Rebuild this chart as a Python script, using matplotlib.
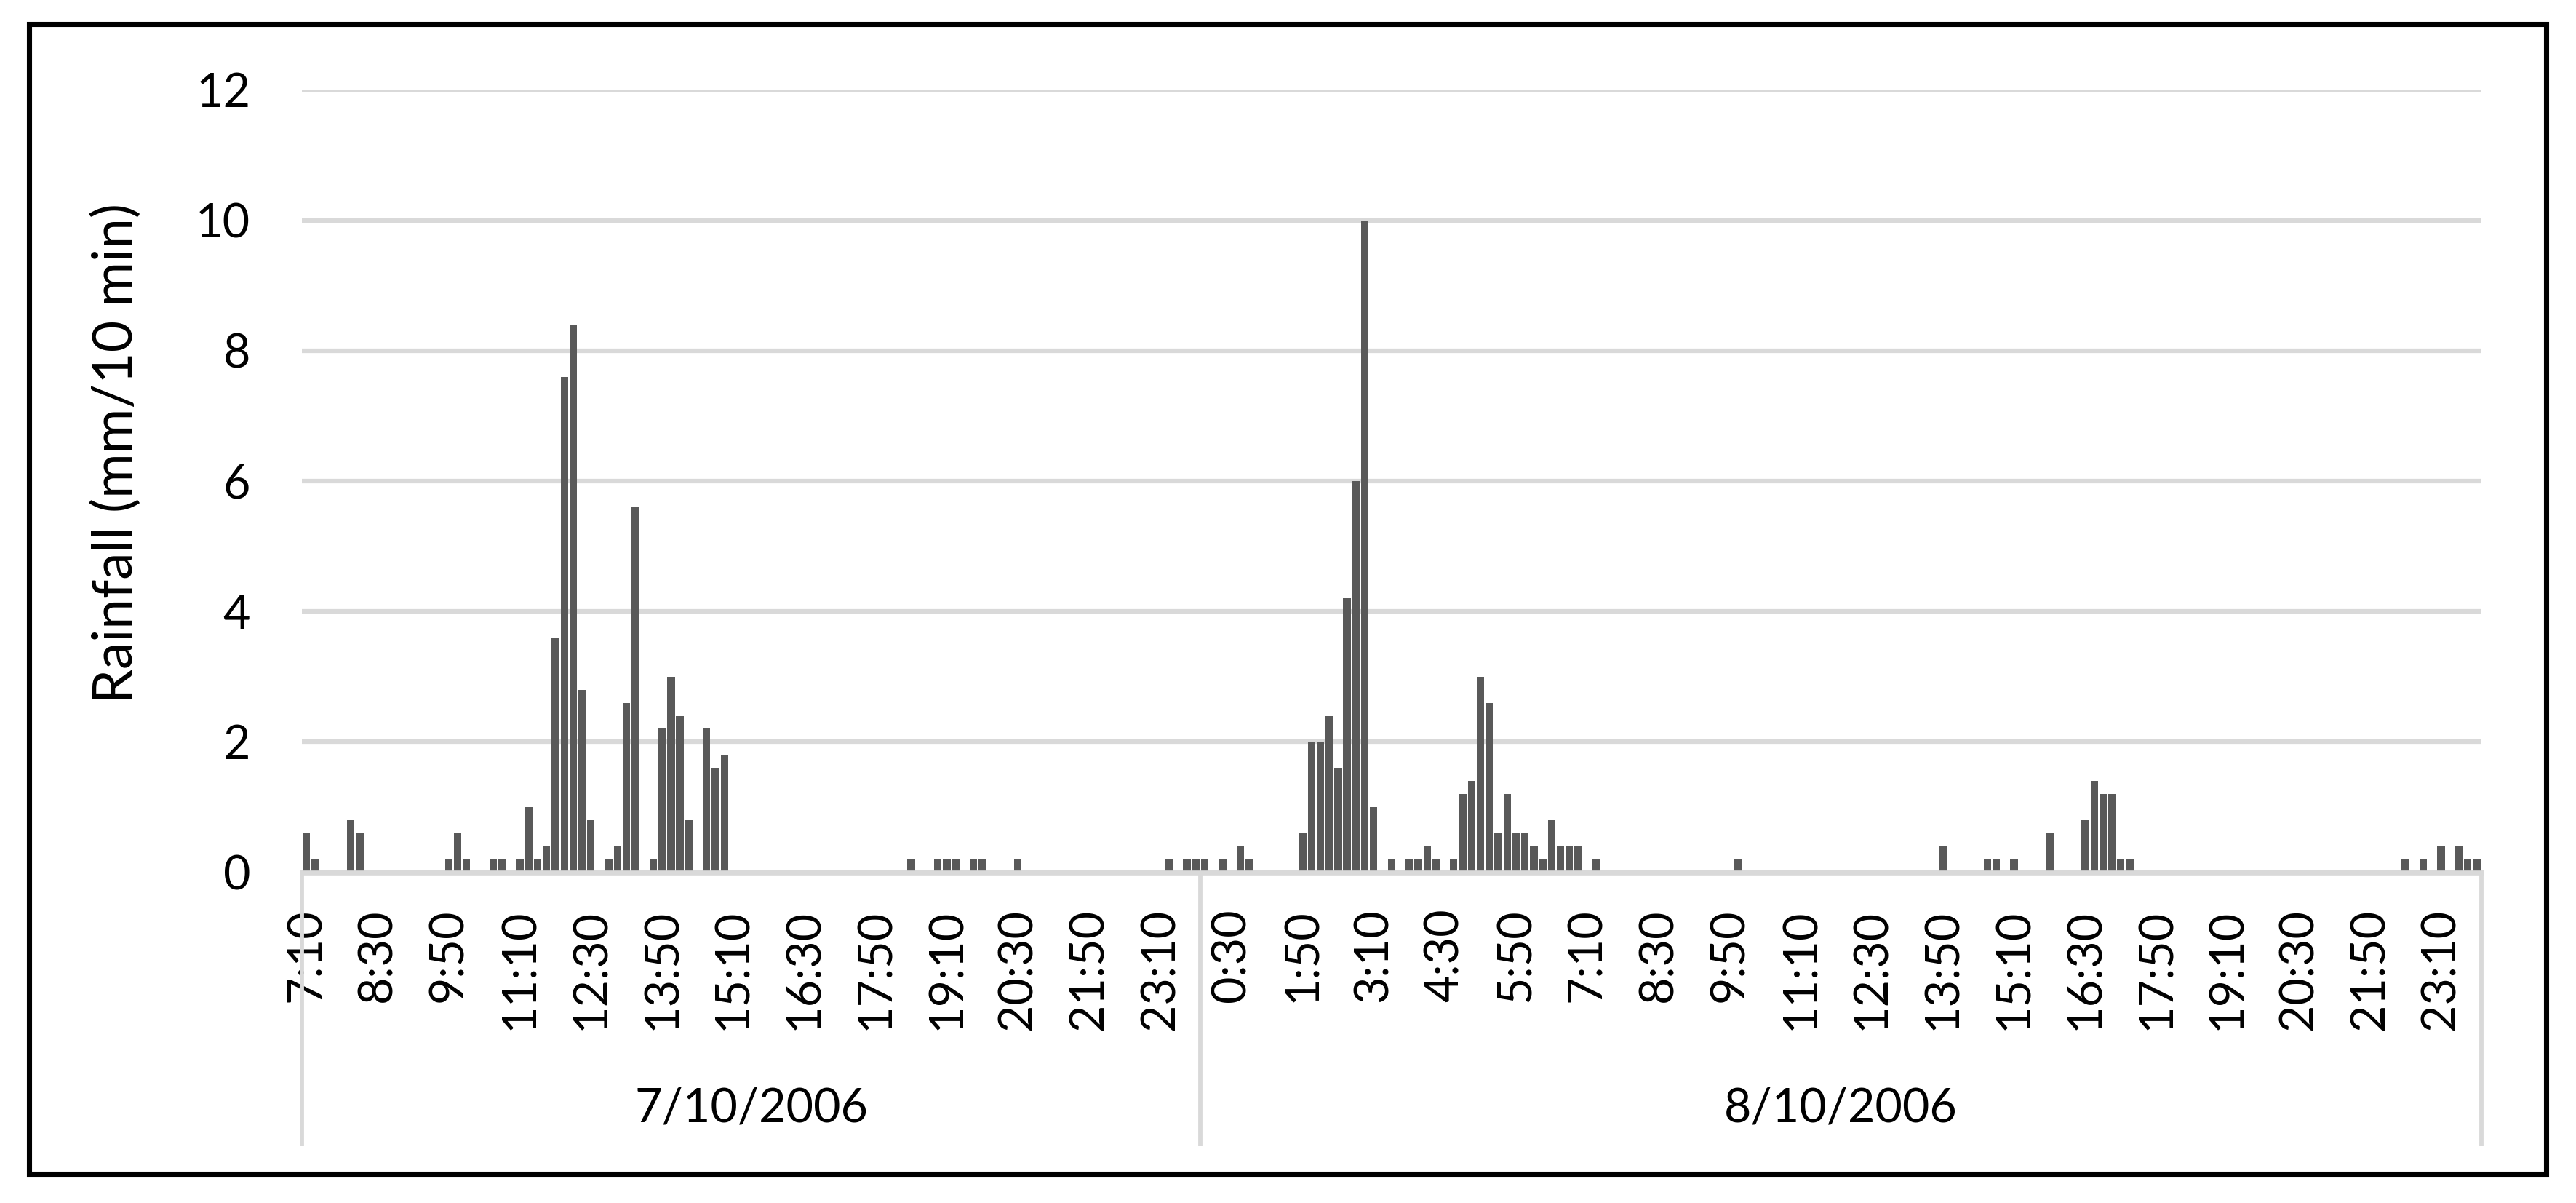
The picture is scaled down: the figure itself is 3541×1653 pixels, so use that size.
import matplotlib
matplotlib.use("Agg")
import matplotlib.pyplot as plt
from matplotlib.patches import Rectangle
from matplotlib.lines import Line2D
from matplotlib.transforms import blended_transform_factory
import numpy as np

plt.rcParams['font.family'] = ['Lato', 'DejaVu Sans']

# 10-minute rainfall, 7/10/2006 from 7:10 to 23:50 (101 bins)
day1_rain = [
    0.6, 0.2, 0, 0, 0, 0.8, 0.6, 0,
    0, 0, 0, 0, 0, 0, 0, 0,
    0.2, 0.6, 0.2, 0, 0, 0.2, 0.2, 0,
    0.2, 1.0, 0.2, 0.4, 3.6, 7.6, 8.4, 2.8,
    0.8, 0, 0.2, 0.4, 2.6, 5.6, 0, 0.2,
    2.2, 3.0, 2.4, 0.8, 0, 2.2, 1.6, 1.8,
    0, 0, 0, 0, 0, 0, 0, 0,
    0, 0, 0, 0, 0, 0, 0, 0,
    0, 0, 0, 0, 0.2, 0, 0, 0.2,
    0.2, 0.2, 0, 0.2, 0.2, 0, 0, 0,
    0.2, 0, 0, 0, 0, 0, 0, 0,
    0, 0, 0, 0, 0, 0, 0, 0,
    0, 0.2, 0, 0.2, 0.2,
]

# 10-minute rainfall, 8/10/2006 from 0:00 to 23:50 (144 bins)
day2_rain = [
    0.2, 0, 0.2, 0, 0.4, 0.2, 0, 0,
    0, 0, 0, 0.6, 2.0, 2.0, 2.4, 1.6,
    4.2, 6.0, 10.0, 1.0, 0, 0.2, 0, 0.2,
    0.2, 0.4, 0.2, 0, 0.2, 1.2, 1.4, 3.0,
    2.6, 0.6, 1.2, 0.6, 0.6, 0.4, 0.2, 0.8,
    0.4, 0.4, 0.4, 0, 0.2, 0, 0, 0,
    0, 0, 0, 0, 0, 0, 0, 0,
    0, 0, 0, 0, 0.2, 0, 0, 0,
    0, 0, 0, 0, 0, 0, 0, 0,
    0, 0, 0, 0, 0, 0, 0, 0,
    0, 0, 0, 0.4, 0, 0, 0, 0,
    0.2, 0.2, 0, 0.2, 0, 0, 0, 0.6,
    0, 0, 0, 0.8, 1.4, 1.2, 1.2, 0.2,
    0.2, 0, 0, 0, 0, 0, 0, 0,
    0, 0, 0, 0, 0, 0, 0, 0,
    0, 0, 0, 0, 0, 0, 0, 0,
    0, 0, 0, 0, 0, 0, 0, 0.2,
    0, 0.2, 0, 0.4, 0, 0.4, 0.2, 0.2,
]

tick_labels = ["7:10", "8:30", "9:50", "11:10", "12:30", "13:50", "15:10",
               "16:30", "17:50", "19:10", "20:30", "21:50", "23:10",
               "0:30", "1:50", "3:10", "4:30", "5:50", "7:10", "8:30",
               "9:50", "11:10", "12:30", "13:50", "15:10", "16:30",
               "17:50", "19:10", "20:30", "21:50", "23:10"]
tick_step = 8
day_labels = ["7/10/2006", "8/10/2006"]
y_ticks = [0, 2, 4, 6, 8, 10, 12]
y_label = "Rainfall (mm/10 min)"

values = np.array(day1_rain + day2_rain)
n = len(values)
n1 = len(day1_rain)
x = np.arange(n)

W, H = 3541, 1653
DPI = 300
fig = plt.figure(figsize=(W / DPI, H / DPI), dpi=DPI)

ax_left, ax_right = 415 / W, 3410.5 / W
ax_top, ax_bottom = 1 - 123.3 / H, 1 - 1198.6 / H
ax = fig.add_axes([ax_left, ax_bottom, ax_right - ax_left, ax_top - ax_bottom])

grid_c = "#D9D9D9"
ax.bar(x, values, width=0.84, color="#595959", zorder=3)

ax.set_xlim(-0.5, n - 0.5)
ax.set_ylim(0, 12)
ax.set_yticks(y_ticks)
ax.set_yticklabels([str(v) for v in y_ticks])
ax.yaxis.grid(True, color=grid_c, linewidth=1.5, zorder=0)
ax.set_axisbelow(True)
for s in ["top", "right", "left"]:
    ax.spines[s].set_visible(False)
ax.spines["bottom"].set_color(grid_c)
ax.spines["bottom"].set_linewidth(1.6)
ax.spines["bottom"].set_zorder(4)

ax.set_xticks(x[::tick_step])
ax.set_xticklabels(tick_labels, rotation=90, fontsize=15.5)
ax.tick_params(axis="x", length=0, pad=12)
ax.tick_params(axis="y", length=0, pad=17, labelsize=15.5)

fig.text(160 / W, 1 - 622 / H, y_label, rotation=90, ha="center", va="center",
         fontsize=18)

# category group separators and day labels
trans = blended_transform_factory(ax.transData, ax.transAxes)
axh = 1198.6 - 123.3
sep_bottom = -(1572 - 1198.6) / axh
for xs in [-0.5, n1 - 0.5, n - 0.5]:
    ax.add_line(Line2D([xs, xs], [0, sep_bottom], transform=trans, color=grid_c,
                       linewidth=1.4, clip_on=False, zorder=1))
label_y = -(1523 - 1198.6) / axh
centers = [(-0.5 + n1 - 0.5) / 2, (n1 - 0.5 + n - 0.5) / 2]
for cx, lab in zip(centers, day_labels):
    ax.text(cx, label_y, lab, transform=trans, ha="center", va="center",
            fontsize=15.5)

# outer border
fig.patches.append(Rectangle((40 / W, 1 - 1613 / H), (3500 - 40) / W, (1613 - 33) / H,
                             transform=fig.transFigure, fill=False,
                             edgecolor="black", linewidth=1.7))

fig.savefig("out.png", dpi=DPI)
